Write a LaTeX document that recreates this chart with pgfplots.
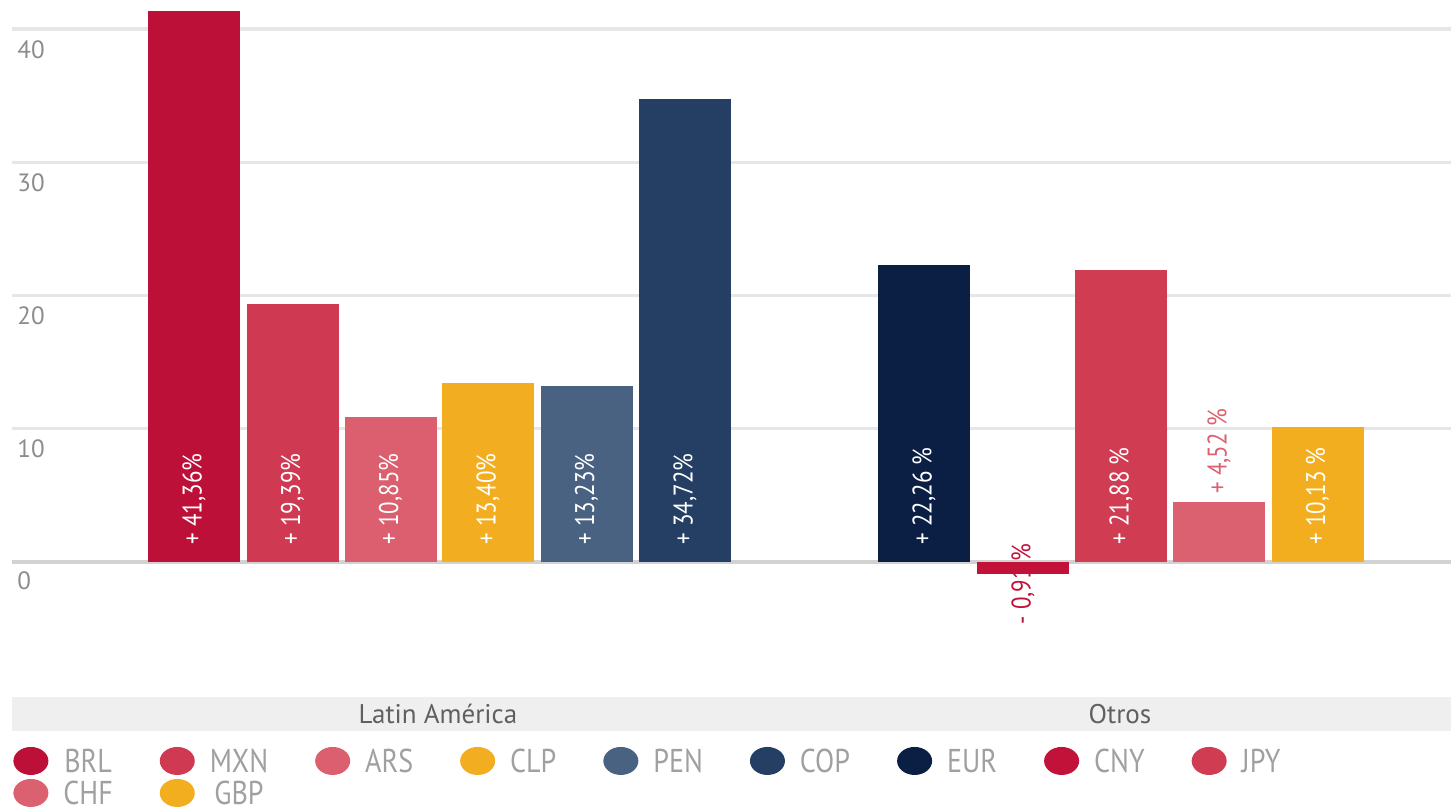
\documentclass[border=0pt]{standalone}
\usepackage{fontspec}
\setmainfont{PT Sans}
\newfontfamily\narrowfont{PT Sans}[FakeStretch=0.85]
\usepackage{pgfplots}
\pgfplotsset{compat=1.18}

\definecolor{cBRL}{HTML}{BC1038}
\definecolor{cMXN}{HTML}{CF3A52}
\definecolor{cARS}{HTML}{DB5F6E}
\definecolor{cCLP}{HTML}{F2AE20}
\definecolor{cPEN}{HTML}{4A6282}
\definecolor{cCOP}{HTML}{243F63}
\definecolor{cEUR}{HTML}{0B1F44}
\definecolor{cCNY}{HTML}{C2123A}
\definecolor{cJPY}{HTML}{D03C52}
\definecolor{cCHF}{HTML}{DB6070}
\definecolor{cGBP}{HTML}{F3AE1F}
\definecolor{gridc}{HTML}{E6E6E6}
\definecolor{zeroc}{HTML}{D2D2D2}
\definecolor{tickc}{HTML}{8C8C8C}
\definecolor{bandc}{HTML}{EFEFEF}
\definecolor{bandt}{HTML}{606060}
\definecolor{legt}{HTML}{A0A0A0}

% label styles (1 y unit = 6.6625pt)
\tikzset{
  barlbl/.style={font=\narrowfont\fontsize{13.5}{14}\selectfont, inner sep=0pt},
  inbar/.style={barlbl, text=white, yshift={(1.3-\rawy)*6.6625pt}, rotate=90, anchor=west},
  abovebar/.style={barlbl, text=cCHF, yshift=4pt, rotate=90, anchor=west},
  belowbar/.style={barlbl, text=cCNY, yshift={(1.43-\rawy)*6.6625pt}, rotate=90, anchor=east},
}

\begin{document}
\begin{tikzpicture}
\begin{axis}[
  name=ax,
  scale only axis,
  width=725.5pt, height=406pt,
  xmin=0, xmax=1451,
  ymin=-18.76, ymax=42.18,
  axis line style={draw=none},
  xtick=\empty, ytick=\empty,
  clip=false,
  ybar, bar width=92, bar shift=0pt,
  nodes near coords,
  point meta=explicit symbolic,
  visualization depends on={rawy \as \rawy},
  legend columns=9,
  legend style={at={(axis cs:7,-13.55)}, anchor=north west, draw=none, fill=none,
    font=\narrowfont\fontsize{16.5}{17}\selectfont, text=legt,
    nodes={inner sep=0pt, text height=12pt, text depth=0pt},
    row sep=2pt,
    /tikz/every odd column/.append style={column sep=7.5pt},
    /tikz/every even column/.append style={column sep=23.5pt}},
  legend image code/.code={\fill[#1,draw=none] (8.75pt,0pt) ellipse [x radius=8.75pt, y radius=7pt];},
]
% grid and tick labels
\pgfplotsinvokeforeach{10,20,30,40}{
  \draw[gridc, line width=1.6pt] (axis cs:12,#1) -- (axis cs:1451,#1);
  \node[anchor=north west, inner sep=0pt, text=tickc, font=\fontsize{12.5}{13}\selectfont, yshift=-5.5pt] at (axis cs:17,#1) {#1};
}
\draw[zeroc, line width=1.6pt] (axis cs:12,0) -- (axis cs:1451,0);
\node[anchor=north west, inner sep=0pt, text=tickc, font=\fontsize{12.5}{13}\selectfont, yshift=-4.5pt] at (axis cs:17,0) {0};
% group band
\fill[bandc] (axis cs:12,-10.13) rectangle (axis cs:1451,-12.68);
\node[text=bandt, font=\fontsize{13.5}{14}\selectfont] at (axis cs:438,-11.4) {Latin América};
\node[text=bandt, font=\fontsize{13.5}{14}\selectfont] at (axis cs:1120,-11.4) {Otros};

\addplot[fill=cBRL, draw=none, every node near coord/.append style={inbar}] coordinates {(194,41.36) [+ 41,36\%]};
\addplot[fill=cMXN, draw=none, every node near coord/.append style={inbar}] coordinates {(292.5,19.39) [+ 19,39\%]};
\addplot[fill=cARS, draw=none, every node near coord/.append style={inbar}] coordinates {(390.5,10.85) [+ 10,85\%]};
\addplot[fill=cCLP, draw=none, every node near coord/.append style={inbar}] coordinates {(488,13.40) [+ 13,40\%]};
\addplot[fill=cPEN, draw=none, every node near coord/.append style={inbar}] coordinates {(586.5,13.23) [+ 13,23\%]};
\addplot[fill=cCOP, draw=none, every node near coord/.append style={inbar}] coordinates {(685,34.72) [+ 34,72\%]};
\addplot[fill=cEUR, draw=none, every node near coord/.append style={inbar}] coordinates {(924,22.26) [+ 22,26 \%]};
\addplot[fill=cCNY, draw=none, every node near coord/.append style={belowbar}] coordinates {(1023,-0.91) [- 0,91 \%]};
\addplot[fill=cJPY, draw=none, every node near coord/.append style={inbar}] coordinates {(1121,21.88) [+ 21,88 \%]};
\addplot[fill=cCHF, draw=none, every node near coord/.append style={abovebar}] coordinates {(1219,4.52) [+ 4,52 \%]};
\addplot[fill=cGBP, draw=none, every node near coord/.append style={inbar}] coordinates {(1317.5,10.13) [+ 10,13 \%]};
\legend{BRL,MXN,ARS,CLP,PEN,COP,EUR,CNY,JPY,CHF,GBP}
\end{axis}
\pgfresetboundingbox
\path (ax.south west) rectangle (ax.north east);
\end{tikzpicture}
\end{document}
